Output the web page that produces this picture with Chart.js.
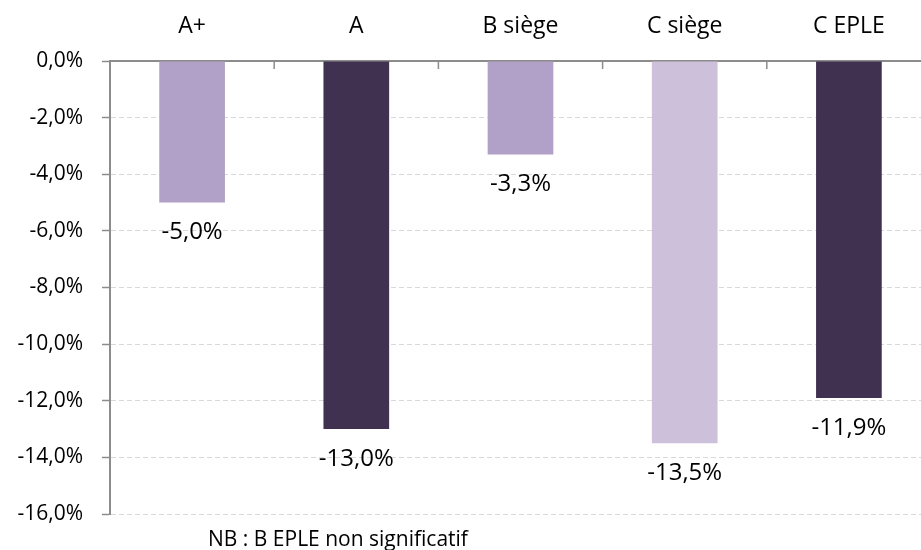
<!DOCTYPE html>
<html><head><meta charset="utf-8">
<script src="https://cdn.jsdelivr.net/npm/chart.js@4/dist/chart.umd.min.js"></script>
<style>
html,body{margin:0;padding:0;overflow:hidden;background:#fff;}
#wrap{width:935px;height:550px;position:relative;}
</style></head>
<body><div id="wrap"><canvas id="c"></canvas></div>
<script>
const categories = ["A+", "A", "B siège", "C siège", "C EPLE"];
const values = [-5.0, -13.0, -3.3, -13.5, -11.9];
const barColors = ["#B1A0C7", "#403151", "#B1A0C7", "#CCC0DA", "#403151"];
const yMin = -16, yMax = 0, yStep = 2;
const footnote = "NB : B EPLE non significatif";

const FONT = "'Open Sans', sans-serif";
const fmt = v => v.toFixed(1).replace('.', ',').replace(/^-0,0$/, '0,0') + '%';

const plugin = {
  id: 'extras',
  afterDatasetsDraw(chart) {
    const ctx = chart.ctx;
    const meta = chart.getDatasetMeta(0);
    ctx.save();
    ctx.fillStyle = '#000';
    ctx.font = "24px " + FONT;
    ctx.textAlign = 'center';
    ctx.textBaseline = 'middle';
    meta.data.forEach((bar, i) => {
      ctx.fillText(fmt(values[i]), bar.x, bar.y + 30);
    });
    // inward category boundary ticks on the top axis
    const xs = chart.scales.x;
    const top = chart.chartArea.top;
    ctx.strokeStyle = '#8c8c8c';
    ctx.lineWidth = 1.5;
    for (let i = 1; i < categories.length; i++) {
      const x = (xs.getPixelForTick(i - 1) + xs.getPixelForTick(i)) / 2;
      ctx.beginPath();
      ctx.moveTo(x, top);
      ctx.lineTo(x, top + 8);
      ctx.stroke();
    }
    // footnote
    ctx.font = "21px " + FONT;
    ctx.textAlign = 'left';
    ctx.textBaseline = 'middle';
    ctx.fillText(footnote, chart.chartArea.left + 98, chart.chartArea.bottom + 26);
    ctx.restore();
  }
};

new Chart(document.getElementById('c'), {
  type: 'bar',
  data: {
    labels: categories,
    datasets: [{
      data: values,
      backgroundColor: barColors,
      borderWidth: 0,
      barPercentage: 0.4,
      categoryPercentage: 1.0
    }]
  },
  options: {
    responsive: true,
    maintainAspectRatio: false,
    animation: false,
    layout: { padding: { left: 0, right: 4, top: 0, bottom: 36 } },
    plugins: { legend: { display: false }, tooltip: { enabled: false } },
    scales: {
      x: {
        position: 'top',
        z: 1,
        grid: { display: false, drawTicks: false },
        border: { display: true, color: '#8c8c8c', width: 2 },
        ticks: { color: '#000', font: { family: FONT, size: 23 }, padding: 21 },
        afterFit(s) { s.height = 61; }
      },
      y: {
        min: yMin, max: yMax,
        grid: { color: '#D9D9D9', lineWidth: 1, tickLength: 8, tickColor: '#8c8c8c', tickWidth: 1.5, tickBorderDash: [] },
        border: { display: true, color: '#8c8c8c', width: 2, dash: [5, 3] },
        ticks: { stepSize: yStep, color: '#000', font: { family: FONT, size: 21 }, padding: 19, callback: v => fmt(v) },
        afterFit(s) { s.width = 110; }
      }
    }
  },
  plugins: [plugin]
});
</script></body></html>
